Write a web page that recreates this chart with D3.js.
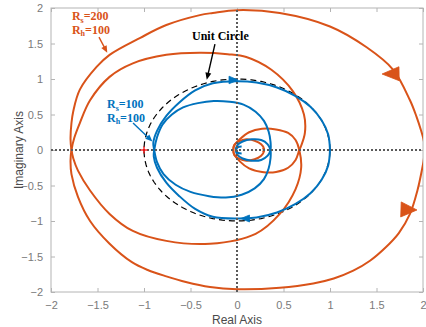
<!DOCTYPE html>
<html>
<head>
<meta charset="utf-8">
<script src="https://cdn.jsdelivr.net/npm/d3@7"></script>
<style>
  html, body { margin: 0; padding: 0; background: #fff; }
  svg { display: block; }
</style>
</head>
<body>
<svg id="chart" width="426" height="327"></svg>
<script>
// Nyquist diagrams for two parameter sets (real, imaginary pairs).
// Positive-frequency branch, starting at the DC point.
const blueBranchPos = [
  [1.00, 0.00], [0.98, -0.22], [0.91, -0.42], [0.79, -0.61], [0.63, -0.76], [0.43, -0.88],
  [0.21, -0.95], [0.00, -0.965], [-0.26, -0.94], [-0.45, -0.83], [-0.62, -0.65], [-0.76, -0.46],
  [-0.86, -0.25], [-0.895, -0.09], [-0.89, 0.00],
  [-0.86, 0.18], [-0.80, 0.36], [-0.70, 0.50], [-0.58, 0.60], [-0.42, 0.66], [-0.25, 0.69],
  [-0.08, 0.68], [0.07, 0.64], [0.20, 0.54], [0.29, 0.41], [0.34, 0.26], [0.36, 0.12], [0.36, 0.00],
  [0.33, -0.08], [0.26, -0.14], [0.16, -0.15], [0.06, -0.12], [0.00, -0.06], [-0.01, 0.00],
  [0.01, 0.04], [0.05, 0.05]
];
// Negative-frequency branch, starting at the DC point.
const blueBranchNeg = [
  [1.00, 0.00], [0.98, 0.22], [0.91, 0.42], [0.79, 0.61], [0.63, 0.76], [0.43, 0.88],
  [0.21, 0.95], [0.00, 0.97], [-0.26, 0.94], [-0.45, 0.84], [-0.62, 0.67], [-0.76, 0.48],
  [-0.86, 0.27], [-0.90, 0.10], [-0.89, 0.00],
  [-0.86, -0.17], [-0.79, -0.34], [-0.66, -0.49], [-0.50, -0.59], [-0.30, -0.65], [-0.12, -0.67],
  [0.05, -0.63], [0.19, -0.54], [0.29, -0.41], [0.34, -0.26], [0.36, -0.12], [0.36, 0.00],
  [0.33, 0.08], [0.26, 0.14], [0.16, 0.15], [0.06, 0.12], [0.00, 0.06], [-0.01, 0.00],
  [0.01, -0.04], [0.05, -0.05]
];
const orangeBranchPos = [
  [2.01, 0.00], [2.01, -0.12], [1.99, -0.27], [1.94, -0.57], [1.86, -0.90], [1.74, -1.17], [1.60, -1.37],
  [1.43, -1.56], [1.25, -1.70], [1.04, -1.81], [0.82, -1.88], [0.46, -1.94], [0.00, -1.96],
  [-0.29, -1.93], [-0.55, -1.86], [-0.76, -1.78], [-0.96, -1.69], [-1.13, -1.58], [-1.37, -1.32],
  [-1.58, -1.00], [-1.71, -0.66], [-1.78, -0.34], [-1.79, -0.15], [-1.78, 0.00],
  [-1.75, 0.17], [-1.69, 0.38], [-1.58, 0.70], [-1.37, 1.03], [-1.12, 1.22], [-0.76, 1.34],
  [-0.40, 1.37], [-0.10, 1.35], [0.10, 1.31], [0.37, 1.13], [0.60, 0.83], [0.72, 0.50],
  [0.73, 0.24], [0.69, 0.06], [0.67, 0.00],
  [0.63, -0.14], [0.55, -0.25], [0.42, -0.31], [0.27, -0.31], [0.13, -0.26], [0.03, -0.16],
  [-0.03, -0.06], [-0.04, 0.00],
  [-0.03, 0.07], [0.02, 0.12], [0.10, 0.15], [0.19, 0.13], [0.26, 0.08], [0.29, 0.02], [0.28, -0.03]
];
const orangeBranchNeg = [
  [2.01, 0.00], [2.01, 0.12], [1.98, 0.27], [1.93, 0.47], [1.86, 0.70], [1.68, 1.13],
  [1.39, 1.45], [1.00, 1.74], [0.46, 1.93], [0.00, 1.97], [-0.26, 1.93], [-0.40, 1.90],
  [-0.76, 1.76], [-1.04, 1.58], [-1.37, 1.34], [-1.51, 1.17], [-1.69, 0.85], [-1.76, 0.55],
  [-1.78, 0.38], [-1.79, 0.15], [-1.78, 0.00],
  [-1.76, -0.12], [-1.71, -0.29], [-1.58, -0.57], [-1.37, -0.90], [-1.12, -1.14], [-0.76, -1.28],
  [-0.29, -1.32], [0.20, -1.18], [0.46, -0.90], [0.63, -0.55], [0.69, -0.25], [0.67, 0.00],
  [0.63, 0.14], [0.55, 0.24], [0.42, 0.29], [0.27, 0.30], [0.13, 0.25], [0.03, 0.15],
  [-0.03, 0.06], [-0.04, 0.00],
  [-0.03, -0.07], [0.02, -0.12], [0.10, -0.15], [0.19, -0.13], [0.26, -0.08], [0.29, -0.02], [0.28, 0.03]
];

const xTicks = [-2, -1.5, -1, -0.5, 0, 0.5, 1, 1.5, 2];
const yTicks = [-2, -1.5, -1, -0.5, 0, 0.5, 1, 1.5, 2];

// Direction markers along the curves: tip location (data), heading in screen degrees.
const arrowHeads = [
  { x: 1.56, y: 1.07, angle: 179, len: 17, half: 7, color: "#D95319" },
  { x: 1.935, y: -0.845, angle: 2, len: 16, half: 7.5, color: "#D95319" },
  { x: 0.011, y: 0.986, angle: 0, len: 9, half: 3.8, color: "#0072BD" },
  { x: 0.043, y: -0.965, angle: 180, len: 8.5, half: 3.5, color: "#0072BD" }
];

// Callouts: label lines, anchor, and pointer (data coordinates).
const callouts = [
  { lines: [["R", "s", "=200"], ["R", "h", "=100"]], x: -1.775, y: [1.83, 1.64], color: "#D95319",
    from: [-1.484, 1.59], to: [-1.395, 1.37] },
  { lines: [["R", "s", "=100"], ["R", "h", "=100"]], x: -1.398, y: [0.585, 0.395], color: "#0072BD",
    from: [-1.118, 0.38], to: [-0.91, 0.12] },
  { lines: [["Unit Circle", "", ""]], x: -0.484, y: [1.549], color: "#000000",
    from: [-0.237, 1.49], to: [-0.325, 0.99] }
];

const svg = d3.select("#chart");
const x = d3.scaleLinear().domain([-2, 2]).range([51, 423]);
const y = d3.scaleLinear().domain([-2, 2]).range([292, 8]);

svg.append("defs").append("clipPath").attr("id", "plotClip")
  .append("rect").attr("x", 51).attr("y", 8).attr("width", 372).attr("height", 284);

const axisColor = "#b4b4b4";
const labelColor = "#7a7a7a";

// Axes box with inward ticks
const plot = svg.append("g");
plot.append("rect").attr("x", 51).attr("y", 8).attr("width", 372).attr("height", 284)
  .attr("fill", "none").attr("stroke", axisColor).attr("stroke-width", 1);

const bottomAxis = d3.axisBottom(x).tickValues(xTicks).tickSize(-4).tickPadding(9)
  .tickFormat(d3.format("~g"));
const topAxis = d3.axisTop(x).tickValues(xTicks).tickSize(-4).tickFormat("");
const leftAxis = d3.axisLeft(y).tickValues(yTicks).tickSize(-4).tickPadding(8)
  .tickFormat(d3.format("~g"));
const rightAxis = d3.axisRight(y).tickValues(yTicks).tickSize(-4).tickFormat("");

function styleAxis(g) {
  g.select(".domain").remove();
  g.selectAll(".tick line").attr("stroke", axisColor);
  g.selectAll(".tick text").attr("fill", labelColor)
    .style("font-family", "Arial, 'Liberation Sans', sans-serif").style("font-size", "11px");
}
svg.append("g").attr("transform", "translate(0,292)").call(bottomAxis).call(styleAxis);
svg.append("g").attr("transform", "translate(0,8)").call(topAxis).call(styleAxis);
svg.append("g").attr("transform", "translate(51,0)").call(leftAxis).call(styleAxis);
svg.append("g").attr("transform", "translate(423,0)").call(rightAxis).call(styleAxis);

// Axis titles
svg.append("text").attr("x", x(0)).attr("y", 324).attr("text-anchor", "middle")
  .attr("fill", "#4a4a4a").style("font-family", "Arial, 'Liberation Sans', sans-serif")
  .style("font-size", "12px").text("Real Axis");
svg.append("text").attr("transform", `translate(22.5,${y(0)}) rotate(-90)`).attr("text-anchor", "middle")
  .attr("fill", "#4a4a4a").style("font-family", "Arial, 'Liberation Sans', sans-serif")
  .style("font-size", "12px").text("Imaginary Axis");

const inner = svg.append("g").attr("clip-path", "url(#plotClip)");

// Unit circle (dashed)
const circlePts = d3.range(0, 361, 3).map(a => [Math.cos(a * Math.PI / 180), Math.sin(a * Math.PI / 180)]);
const line = d3.line().x(d => x(d[0])).y(d => y(d[1]));
inner.append("path").attr("d", line(circlePts)).attr("fill", "none")
  .attr("stroke", "#000").attr("stroke-width", 1.2).attr("stroke-dasharray", "6,4");

// Curves
const smooth = d3.line().x(d => x(d[0])).y(d => y(d[1])).curve(d3.curveCatmullRom.alpha(0.5));
[[orangeBranchPos, "#D95319"], [orangeBranchNeg, "#D95319"],
 [blueBranchPos, "#0072BD"], [blueBranchNeg, "#0072BD"]].forEach(([pts, c]) => {
  inner.append("path").attr("d", smooth(pts)).attr("fill", "none")
    .attr("stroke", c).attr("stroke-width", 2).attr("stroke-linejoin", "round");
});

// Zero lines (dotted)
inner.append("line").attr("x1", x(-2)).attr("x2", x(2)).attr("y1", y(0)).attr("y2", y(0))
  .attr("stroke", "#5a5a5a").attr("stroke-width", 2).attr("stroke-dasharray", "2,2");
inner.append("line").attr("x1", x(0)).attr("x2", x(0)).attr("y1", y(-2)).attr("y2", y(2))
  .attr("stroke", "#5a5a5a").attr("stroke-width", 2).attr("stroke-dasharray", "2,2");

// Critical point
const cp = inner.append("g").attr("transform", `translate(${x(-1)},${y(0)})`);
cp.append("line").attr("x1", -3.5).attr("x2", 3.5).attr("stroke", "#ff0000").attr("stroke-width", 1.2);
cp.append("line").attr("y1", -3.5).attr("y2", 3.5).attr("stroke", "#ff0000").attr("stroke-width", 1.2);

// Direction arrowheads
arrowHeads.forEach(a => {
  const g = inner.append("g")
    .attr("transform", `translate(${x(a.x)},${y(a.y)}) rotate(${a.angle})`);
  g.append("path").attr("d", `M0,0 L${-a.len},${-a.half} L${-a.len},${a.half} Z`)
    .attr("fill", a.color).attr("stroke", a.color).attr("stroke-width", 0.8);
});

// Callouts
callouts.forEach(c => {
  c.lines.forEach((ln, i) => {
    const t = svg.append("text").attr("x", x(c.x)).attr("y", y(c.y[i]))
      .attr("fill", c.color).style("font-family", "'Liberation Serif', 'Times New Roman', serif")
      .style("font-size", "12px").style("font-weight", "bold");
    t.append("tspan").text(ln[0]);
    if (ln[1]) t.append("tspan").attr("dy", 2.5).style("font-size", "8px").text(ln[1]);
    if (ln[2]) t.append("tspan").attr("dy", ln[1] ? -2.5 : 0).text(ln[2]);
  });
  const x1 = x(c.from[0]), y1 = y(c.from[1]), x2 = x(c.to[0]), y2 = y(c.to[1]);
  const ang = Math.atan2(y2 - y1, x2 - x1) * 180 / Math.PI;
  const len = Math.hypot(x2 - x1, y2 - y1);
  const g = svg.append("g").attr("transform", `translate(${x1},${y1}) rotate(${ang})`);
  g.append("line").attr("x1", 0).attr("y1", 0).attr("x2", len - 5).attr("y2", 0)
    .attr("stroke", c.color).attr("stroke-width", 1.4);
  g.append("path").attr("d", `M${len},0 L${len - 7},-3 L${len - 7},3 Z`).attr("fill", c.color);
});
</script>
</body>
</html>
